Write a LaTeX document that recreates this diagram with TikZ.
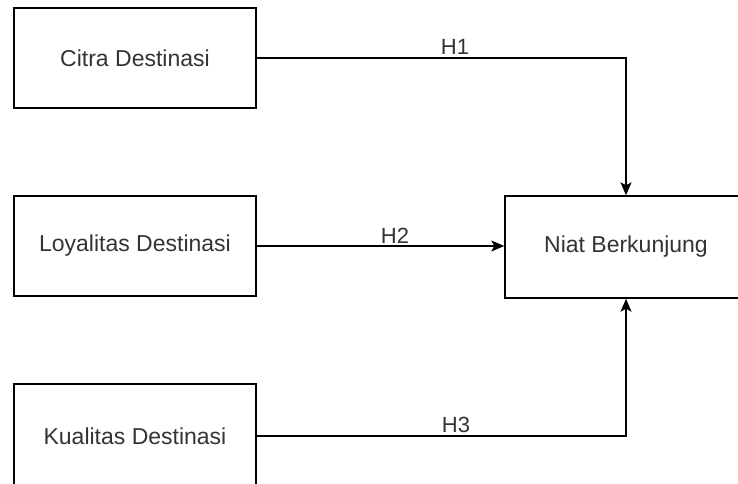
\documentclass[tikz,border=0pt]{standalone}
\usepackage{fontspec}
\setmainfont{Liberation Sans}
\usetikzlibrary{arrows.meta}
\definecolor{txt}{RGB}{51,51,51}
\tikzset{
  box/.style={draw=black, line width=1.4pt, minimum width=242pt, minimum height=100pt, inner sep=0pt, text=txt, font=\fontsize{23}{27}\selectfont},
  boxtext/.style={text=txt, inner sep=0pt, font=\fontsize{23}{27}\selectfont},
  conn/.style={draw=black, line width=1.4pt, -{Stealth[length=13pt,width=11pt,inset=3pt]}},
  lbl/.style={text=txt, font=\fontsize{22}{26}\selectfont, inner sep=0pt}
}
\begin{document}
\begin{tikzpicture}[x=1pt,y=-1pt]
\useasboundingbox (0,0) rectangle (738,483);
\clip (0,0) rectangle (738,483);
\node[box] (citra) at (135,58) {Citra Destinasi};
\node[box] (loyal) at (135,246) {Loyalitas Destinasi};
\node[box, minimum height=104pt] (kual) at (135,436) {Kualitas Destinasi};
\node[box, minimum width=270pt, minimum height=102pt] (niat) at (640,247) {};
\node[boxtext] (niattext) at (626,247) {Niat Berkunjung};
\draw[conn] (citra.east) -| (niattext |- niat.north);
\draw[conn] (loyal.east) -- (loyal.east -| niat.west);
\draw[conn] (kual.east) -| (niattext |- niat.south);
\node[lbl] (h1) at (455,47) {H1};
\node[lbl] (h2) at (395,236) {H2};
\node[lbl] (h3) at (456,425) {H3};
\end{tikzpicture}
\end{document}
